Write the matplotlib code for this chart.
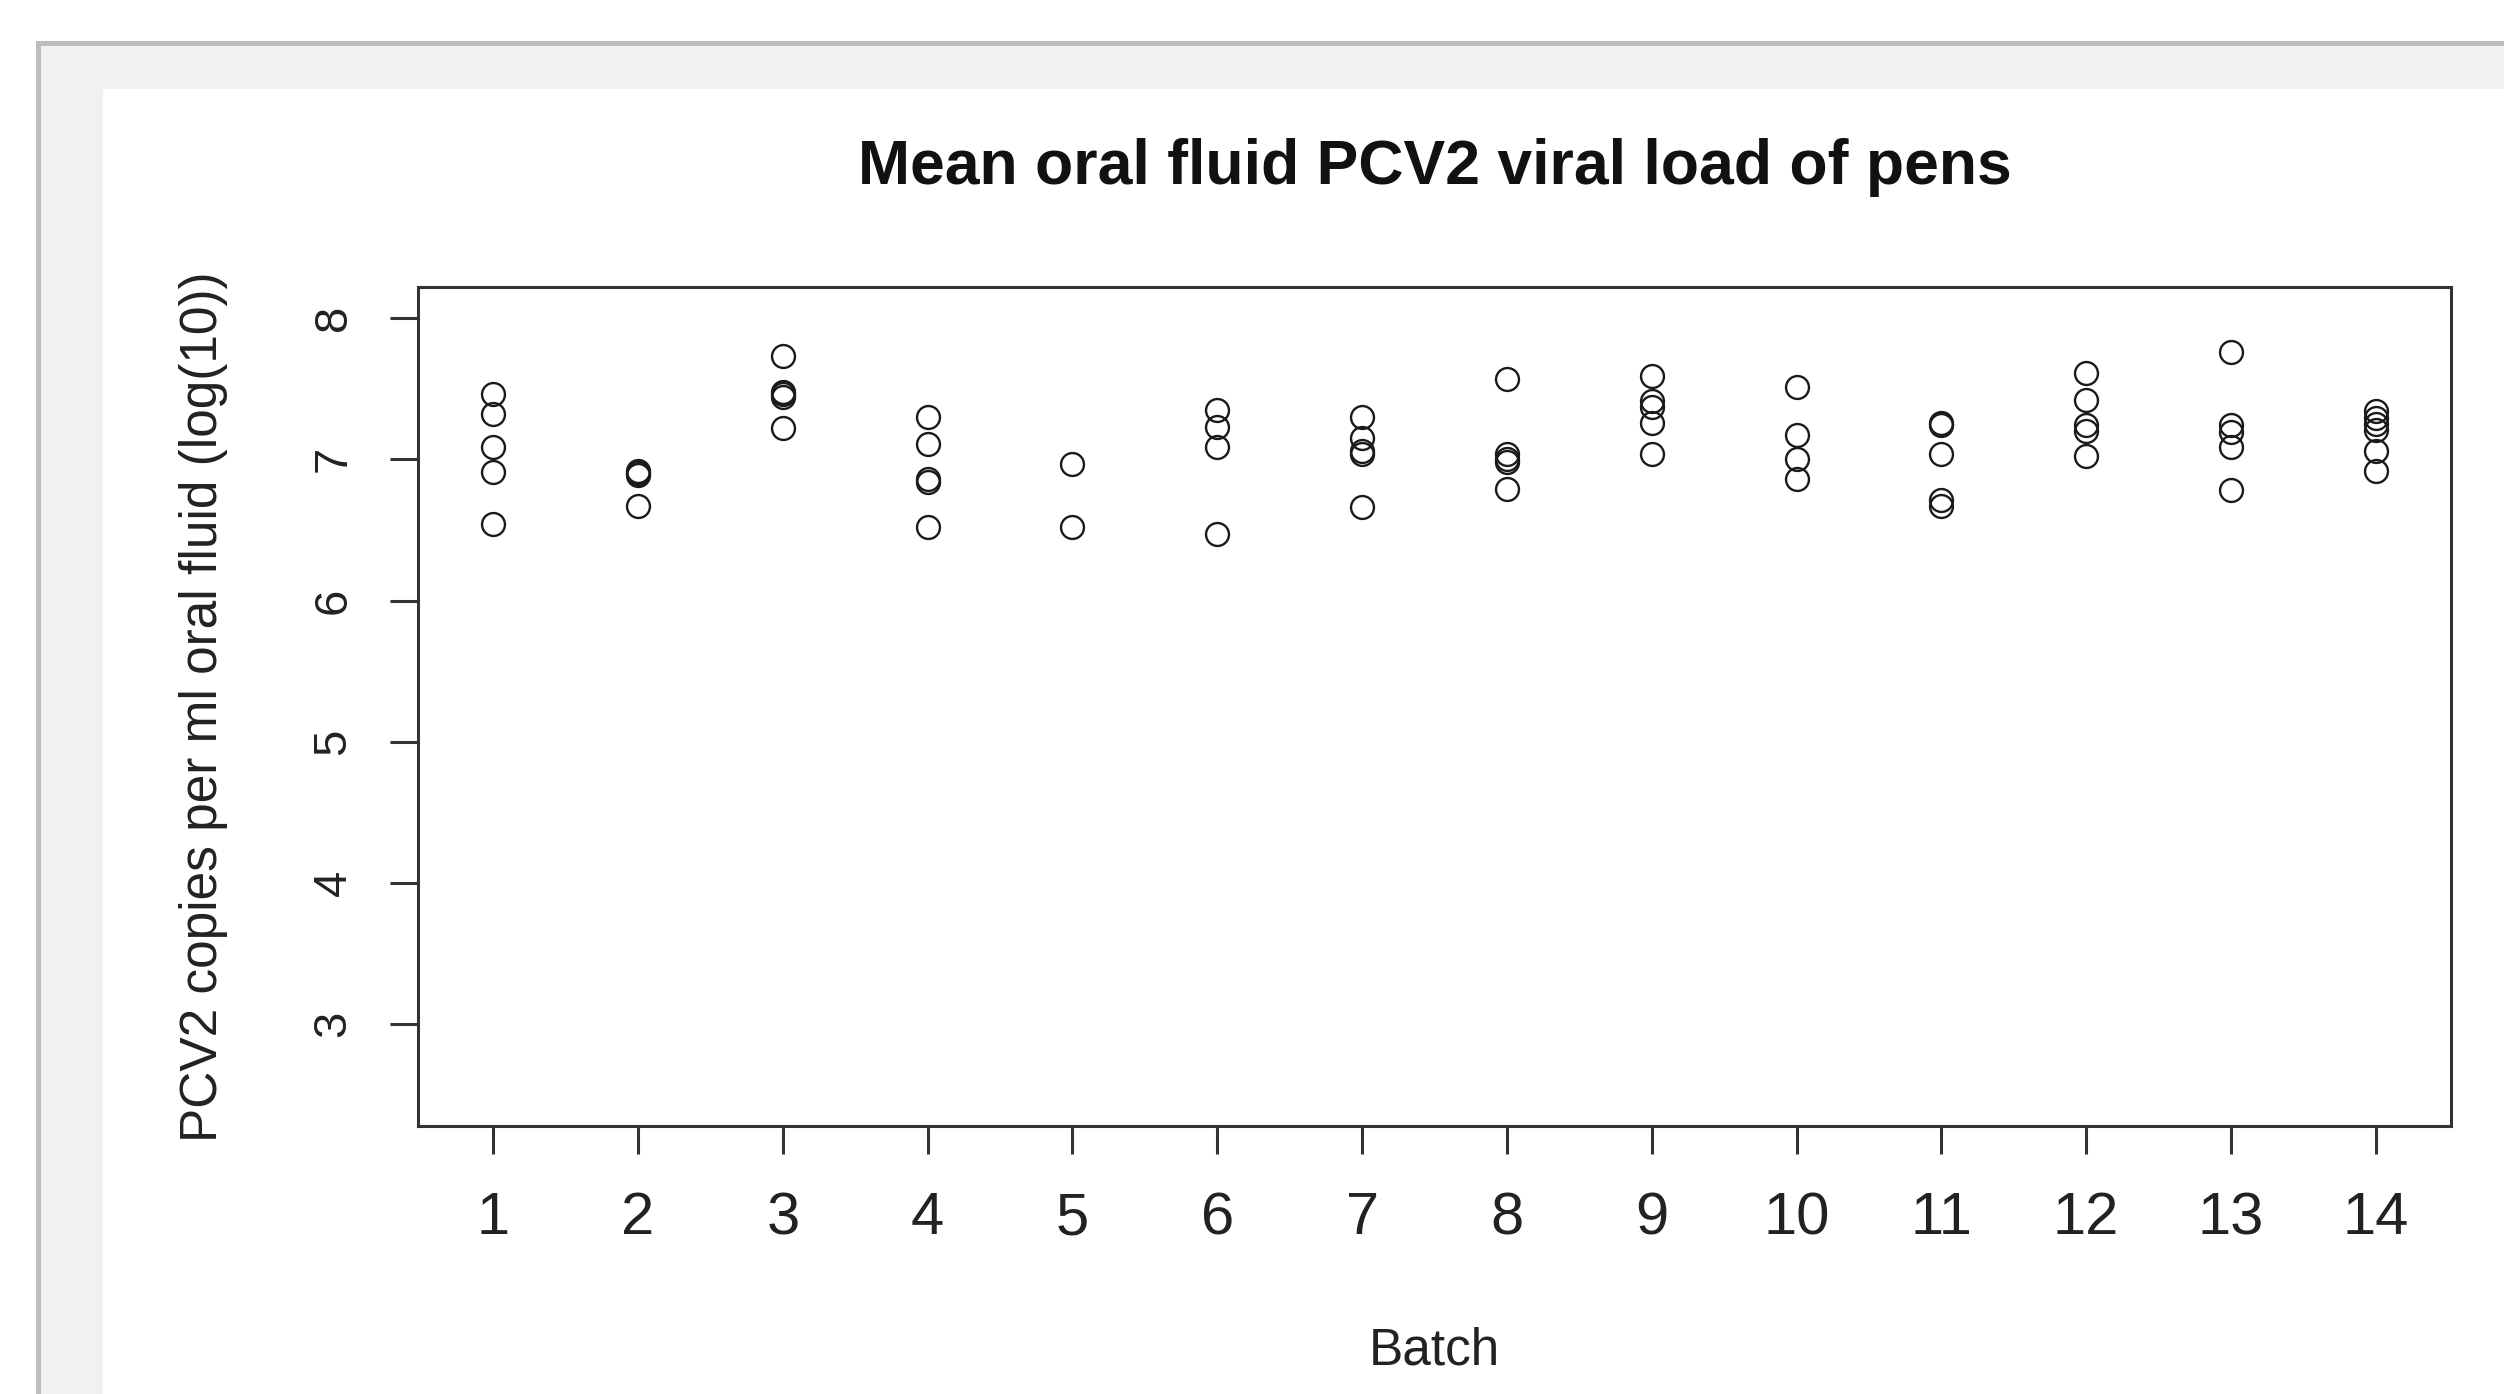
import matplotlib
matplotlib.use("Agg")
import matplotlib.pyplot as plt
from matplotlib.patches import Rectangle

plt.rcParams["font.family"] = ["Liberation Sans", "DejaVu Sans"]

# viral load per pen (log10 copies/ml), one list per batch
batches = list(range(1, 15))
load_b1 = [7.46, 7.32, 7.09, 6.91, 6.54]
load_b2 = [6.92, 6.90, 6.89, 6.67]
load_b3 = [7.73, 7.48, 7.46, 7.44, 7.22]
load_b4 = [7.30, 7.11, 6.86, 6.84, 6.52]
load_b5 = [6.97, 6.52]
load_b6 = [7.35, 7.23, 7.09, 6.47]
load_b7 = [7.30, 7.15, 7.06, 7.04, 6.66]
load_b8 = [7.57, 7.04, 7.00, 6.98, 6.79]
load_b9 = [7.59, 7.41, 7.37, 7.26, 7.04]
load_b10 = [7.51, 7.17, 7.00, 6.86]
load_b11 = [7.26, 7.24, 7.04, 6.71, 6.67]
load_b12 = [7.61, 7.42, 7.24, 7.20, 7.02]
load_b13 = [7.76, 7.24, 7.19, 7.09, 6.78]
load_b14 = [7.34, 7.29, 7.25, 7.21, 7.06, 6.92]
loads = [load_b1, load_b2, load_b3, load_b4, load_b5, load_b6, load_b7,
         load_b8, load_b9, load_b10, load_b11, load_b12, load_b13, load_b14]

y_ticks = [3, 4, 5, 6, 7, 8]

W, H = 2504, 1394
fig = plt.figure(figsize=(W / 100, H / 100), dpi=100)
fig.patch.set_facecolor("white")

# page frame: grey border + grey band + white panel (behind the axes)
for x0, y0, col in [(36, 41, "#bdbdbd"), (41, 46, "#f2f1f0"), (103, 89, "white")]:
    fig.patches.append(Rectangle((x0 / W, 0), 1, 1 - y0 / H, transform=fig.transFigure,
                                 facecolor=col, edgecolor="none", zorder=-10))

ax = fig.add_axes([418 / W, 1 - 1126 / H, (2451 - 418) / W, (1126 - 287) / H])
ax.set_facecolor("none")

for b, vals in zip(batches, loads):
    ax.plot([b] * len(vals), vals, linestyle="none", marker="o", markersize=16.5,
            markerfacecolor="none", markeredgecolor="#1a1a1a", markeredgewidth=1.7)

ax.set_xlim(0.48, 14.52)
ax.set_ylim(2.28, 8.22)
ax.set_xticks(batches)
ax.set_yticks(y_ticks)
ax.set_yticklabels([str(t) for t in y_ticks], rotation=90, va="center")

for s in ax.spines.values():
    s.set_linewidth(2.2)
    s.set_color("#333333")

ax.tick_params(axis="x", length=20, width=2.2, color="#333333", labelsize=43,
               pad=27, labelcolor="#222222")
ax.tick_params(axis="y", length=20, width=2.2, color="#333333", labelsize=34,
               pad=25, labelcolor="#222222")

ax.set_title("Mean oral fluid PCV2 viral load of pens", fontsize=45,
             fontweight="bold", color="#111111", pad=74)
ax.set_xlabel("Batch", fontsize=37, color="#222222", labelpad=58)
ax.set_ylabel("PCV2 copies per ml oral fluid (log(10))", fontsize=37,
              color="#222222", labelpad=60)

fig.savefig("out.png", dpi=100)
